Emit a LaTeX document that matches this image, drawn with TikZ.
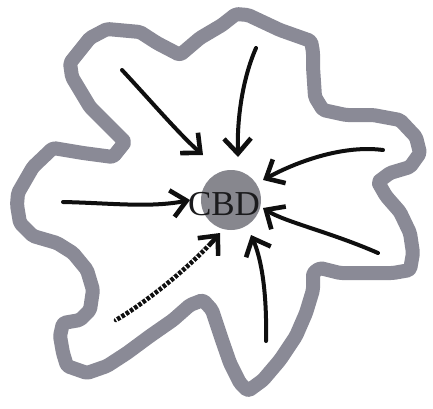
\documentclass[tikz,border=0pt]{standalone}
\usepackage{fontspec}
\setmainfont{Liberation Serif}
\usetikzlibrary{arrows.meta}
\definecolor{bandgray}{RGB}{138,138,150}
\definecolor{cbdgray}{RGB}{135,135,142}
\definecolor{ink}{RGB}{15,15,15}
\tikzset{
  band/.style={draw=bandgray, line width=14pt, line join=round, rounded corners=2pt},
  flow/.style={draw=ink, line width=4pt, line cap=round,
    -{Straight Barb[length=15pt,width=27pt,line width=4.6pt]}},
  dotflow/.style={flow, line width=4.6pt,
    postaction={draw=white, line width=5.5pt, line cap=butt, arrows=-,
      dash pattern=on 1.3pt off 3.8pt, shorten >=16pt}},
  cbd/.style={circle, fill=cbdgray, minimum size=60pt, inner sep=0pt},
  cbdtext/.style={font=\fontsize{35pt}{35pt}\selectfont, text=ink!90!bandgray, inner sep=0pt}
}
\begin{document}
\begin{tikzpicture}[x=1pt,y=-1pt]
\useasboundingbox (0,0) rectangle (433,408);
\fill[white] (0,0) rectangle (433,408);
% city outline
\draw[band] (17,205) -- (18,193) -- (33,167) -- (53,148) -- (83,153) -- (113,157)
  -- (125,142) -- (113,130) -- (90,107) -- (72,77) -- (70,63) -- (90,38) -- (107,29)
  -- (140,32) -- (157,43) -- (180,55) -- (200,38) -- (222,25) -- (236,14) -- (248,15)
  -- (280,30) -- (311,41) -- (313,52) -- (313,67) -- (315,97) -- (323,110) -- (346,115)
  -- (373,115) -- (400,120) -- (416,137) -- (420,153) -- (410,167) -- (390,173)
  -- (378,182) -- (386,196) -- (400,212) -- (410,233) -- (413,253) -- (410,270)
  -- (393,273) -- (373,273) -- (340,273) -- (320,268) -- (313,273) -- (313,290)
  -- (306,313) -- (296,336) -- (280,360) -- (263,380) -- (248,391) -- (240,383)
  -- (230,363) -- (222,340) -- (212,310) -- (203,300) -- (190,305) -- (173,320)
  -- (150,336) -- (127,353) -- (107,366) -- (87,373) -- (67,366) -- (63,353)
  -- (60,336) -- (63,323) -- (80,320) -- (90,310) -- (93,290) -- (87,270) -- (73,253)
  -- (57,243) -- (33,236) -- (20,223) -- cycle;
% CBD
\node[cbd] (c) at (231,200) {};
\node[cbdtext] (lbl) at (224,204) {CBD};
% arrow ends
\coordinate (t1) at (122,70);  \coordinate (h1) at (203,155);
\coordinate (t2) at (256,48);  \coordinate (h2) at (238,157);
\coordinate (t3) at (383,150); \coordinate (h3) at (263,180);
\coordinate (t4) at (63,202);  \coordinate (h4) at (190,200);
\coordinate (t5) at (116,320); \coordinate (h5) at (220,233);
\coordinate (t6) at (378,253); \coordinate (h6) at (263,208);
\coordinate (t7) at (266,341); \coordinate (h7) at (251,235);
% arrows
\draw[flow] (t1) .. controls (150,100) and (180,135) .. (h1);
\draw[flow] (t2) .. controls (242,80) and (237,120) .. (h2);
\draw[flow] (t3) .. controls (345,145) and (300,160) .. (h3);
\draw[flow] (t4) .. controls (110,203) and (150,208) .. (h4);
\draw[dotflow] (t5) .. controls (150,300) and (195,262) .. (h5);
\draw[flow] (t6) .. controls (330,232) and (285,222) .. (h6);
\draw[flow] (t7) .. controls (267,295) and (262,260) .. (h7);
\end{tikzpicture}
\end{document}
